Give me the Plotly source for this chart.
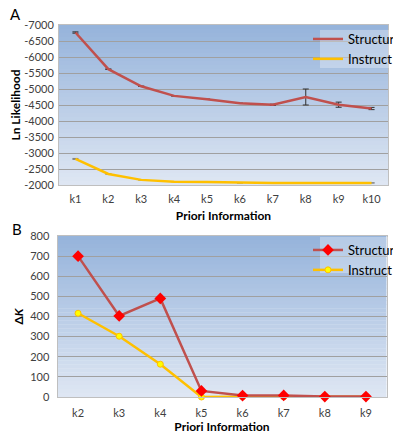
import plotly.graph_objects as go

# ---------- data ----------
cats_a = ["k1", "k2", "k3", "k4", "k5", "k6", "k7", "k8", "k9", "k10"]
structure_a = [-6765, -5620, -5085, -4785, -4680, -4555, -4505, -4750, -4510, -4390]
structure_a_err = [20, 0, 0, 0, 0, 0, 20, 250, 80, 35]
instruct_a = [-2815, -2345, -2160, -2105, -2090, -2065, -2062, -2062, -2062, -2065]
instruct_a_err = [15, 0, 0, 0, 0, 0, 0, 0, 0, 0]
yticks_a = [-7000, -6500, -6000, -5500, -5000, -4500, -4000, -3500, -3000, -2500, -2000]
yticklabels_a = ["-7000", "-6500", "-6000", "-5500", "-5000", "-4500", "-4000",
                 "-3500", "-3000", "-2500", "-2000"]

cats_b = ["k2", "k3", "k4", "k5", "k6", "k7", "k8", "k9"]
structure_b = [700, 403, 490, 30, 7, 8, 2, 2]
instruct_b = [416, 302, 163, 0, 1, 1, 1, 1]
yticks_b = [0, 100, 200, 300, 400, 500, 600, 700, 800]

# ---------- style ----------
W, H = 393, 434
FONT = "Lato"
RED = "#C0504D"
YEL = "#FFC000"
GRID = "#A0A0A0"
TICKC = "#404040"

def py(px):
    return 1 - px / H

def px_x(px):
    return px / W

xa_dom = [px_x(59), px_x(388)]
ya_dom = [py(185), py(25)]
xb_dom = [px_x(57.5), px_x(386.5)]
yb_dom = [py(397), py(236)]

fig = go.Figure()

fig.add_trace(go.Scatter(
    x=cats_a, y=instruct_a, mode="lines", name="Instruct",
    line=dict(color=YEL, width=2.5),
    error_y=dict(type="data", array=instruct_a_err, color="#808080", thickness=1, width=3),
    xaxis="x", yaxis="y", legend="legend", legendrank=2))
fig.add_trace(go.Scatter(
    x=cats_a, y=structure_a, mode="lines", name="Structure",
    line=dict(color=RED, width=2.5),
    error_y=dict(type="data", array=structure_a_err, color="#303030", thickness=1, width=3),
    xaxis="x", yaxis="y", legend="legend", legendrank=1))

fig.add_trace(go.Scatter(
    x=cats_b, y=instruct_b, mode="lines+markers", name="Instruct",
    line=dict(color=YEL, width=2.5),
    marker=dict(symbol="circle", size=6, color="#FFFF00", line=dict(width=1, color=YEL)),
    xaxis="x2", yaxis="y2", legend="legend2", legendrank=2, cliponaxis=False))
fig.add_trace(go.Scatter(
    x=cats_b, y=structure_b, mode="lines+markers", name="Structure",
    line=dict(color=RED, width=2.5),
    marker=dict(symbol="diamond", size=9, color="#FF0000", line=dict(width=0)),
    xaxis="x2", yaxis="y2", legend="legend2", legendrank=1, cliponaxis=False))

# gradient backgrounds
top = (149, 179, 219)
bot = (223, 231, 243)
N = 40
shapes = []
for xr, yr in (("x domain", "y domain"), ("x2 domain", "y2 domain")):
    for i in range(N):
        t = (i + 0.5) / N
        c = tuple(round(bot[k] + (top[k] - bot[k]) * t) for k in range(3))
        shapes.append(dict(type="rect", xref=xr, yref=yr, x0=0, x1=1,
                           y0=i / N, y1=(i + 1) / N + 0.002, layer="below",
                           line=dict(width=0), fillcolor="rgb(%d,%d,%d)" % c))
# legend boxes
for (y0, y1) in ((30, 68), (237, 273)):
    shapes.append(dict(type="rect", xref="paper", yref="paper",
                       x0=px_x(320), x1=1.01, y0=py(y1), y1=py(y0),
                       layer="above", line=dict(width=0),
                       fillcolor="rgba(255,255,255,0.3)"))
fig.update_layout(shapes=shapes)

def axis_common(ticklen):
    return dict(showline=True, linecolor="#BFBFBF", linewidth=1, mirror=True,
                tickfont=dict(family=FONT, size=11, color=TICKC),
                ticks="outside", ticklen=ticklen, tickcolor="rgba(0,0,0,0)", zeroline=False)

fig.update_layout(
    width=W, height=H,
    margin=dict(l=0, r=0, t=0, b=0, autoexpand=False),
    paper_bgcolor="white", plot_bgcolor="rgba(0,0,0,0)",
    font=dict(family=FONT, size=11, color="black"),
    xaxis=dict(domain=xa_dom, anchor="y", type="category", range=[-0.5, 9.5],
               showgrid=False,
               title=dict(text="<b>Priori Information</b>", font=dict(family=FONT, size=12), standoff=7),
               **axis_common(4)),
    yaxis=dict(domain=ya_dom, anchor="x", range=[-2000, -7000],
               tickvals=yticks_a, ticktext=yticklabels_a,
               showgrid=True, gridcolor=GRID, gridwidth=1,
               title=dict(text="<b>Ln Likelihood</b>", font=dict(family=FONT, size=12), standoff=0),
               **axis_common(2)),
    xaxis2=dict(domain=xb_dom, anchor="y2", type="category", range=[-0.5, 7.5],
                showgrid=False,
                title=dict(text="<b>Priori Information</b>", font=dict(family=FONT, size=12), standoff=7),
                **axis_common(6)),
    yaxis2=dict(domain=yb_dom, anchor="x2", range=[0, 800], tickvals=yticks_b,
                showgrid=True, gridcolor=GRID, gridwidth=1,
                title=dict(text="<b>Δ<i>K</i></b>", font=dict(family=FONT, size=12), standoff=3),
                **axis_common(5)),
    legend=dict(x=px_x(308), y=py(24), xanchor="left", yanchor="top",
                bgcolor="rgba(0,0,0,0)", borderwidth=0,
                font=dict(family=FONT, size=13, color="black"),
                itemwidth=30, tracegroupgap=0),
    legend2=dict(x=px_x(308), y=py(235), xanchor="left", yanchor="top",
                 bgcolor="rgba(0,0,0,0)", borderwidth=0,
                 font=dict(family=FONT, size=13, color="black"),
                 itemwidth=30, tracegroupgap=0),
    annotations=[
        dict(text="A", x=px_x(15), y=py(14), xref="paper", yref="paper",
             xanchor="center", yanchor="middle",
             showarrow=False, font=dict(family=FONT, size=15, color="black")),
        dict(text="B", x=px_x(17), y=py(229), xref="paper", yref="paper",
             xanchor="center", yanchor="middle",
             showarrow=False, font=dict(family=FONT, size=15, color="black")),
    ],
)

fig.write_html("out.html", config={"displayModeBar": False},
               post_script="document.body.style.margin='0';document.body.style.overflow='hidden';")
